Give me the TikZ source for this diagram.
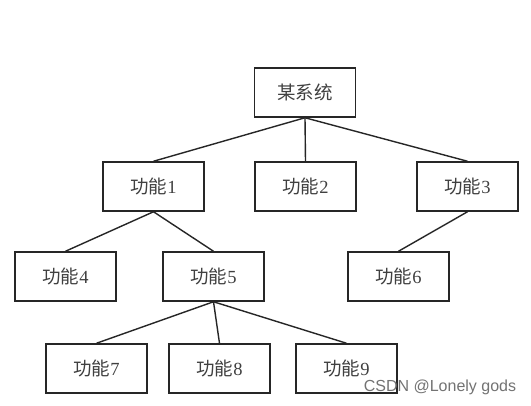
\documentclass[tikz,border=0pt]{standalone}
\usepackage{fontspec}
\setmainfont{Liberation Serif}
\newfontfamily\cjk{Noto Sans CJK SC}
\newfontfamily\wmfont{Liberation Sans}
\begin{document}
\begin{tikzpicture}[x=1pt,y=-1pt,
  box/.style={draw=black!85, line width=1.5pt, minimum width=101pt, minimum height=49pt, inner sep=0pt, font=\fontsize{18.5}{22}\selectfont, text=black!75},
  link/.style={draw=black!85, line width=1.4pt}]
\useasboundingbox[fill=white] (0,0) rectangle (531,405);
\node[box] (r) at (305,92.5) {{\cjk 某系统}};
\node[box] (f1) at (153.5,186.5) {{\cjk 功能}1};
\node[box] (f2) at (305.5,186.5) {{\cjk 功能}2};
\node[box] (f3) at (467.5,186.5) {{\cjk 功能}3};
\node[box] (f4) at (65.5,276.5) {{\cjk 功能}4};
\node[box] (f5) at (213.5,276.5) {{\cjk 功能}5};
\node[box] (f6) at (398.5,276.5) {{\cjk 功能}6};
\node[box] (f7) at (96.5,368.5) {{\cjk 功能}7};
\node[box] (f8) at (219.5,368.5) {{\cjk 功能}8};
\node[box] (f9) at (346.5,368.5) {{\cjk 功能}9};
\draw[link] (r.south) -- (f1.north);
\draw[link] (r.south) -- (f2.north);
\draw[link] (r.south) -- (f3.north);
\draw[link] (f1.south) -- (f4.north);
\draw[link] (f1.south) -- (f5.north);
\draw[link] (f3.south) -- (f6.north);
\draw[link] (f5.south) -- (f7.north);
\draw[link] (f5.south) -- (f8.north);
\draw[link] (f5.south) -- (f9.north);
\node[font=\wmfont\fontsize{16}{18}\selectfont, text=black!55, inner sep=0pt] (wm) at (440,387) {CSDN @Lonely gods};
\end{tikzpicture}
\end{document}
